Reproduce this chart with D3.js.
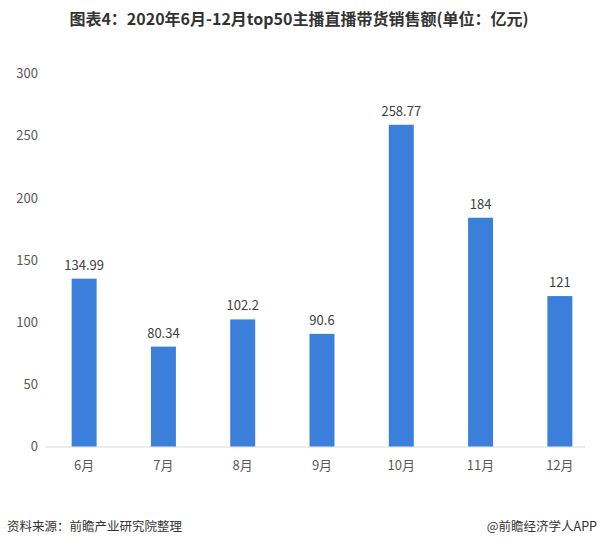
<!DOCTYPE html>
<html><head><meta charset="utf-8">
<script src="https://cdn.jsdelivr.net/npm/d3@7"></script>
<style>body{margin:0;background:#fff;} svg{display:block;}</style>
</head><body>
<svg id="c" width="600" height="548"></svg>
<script>
const categories = ["6月","7月","8月","9月","10月","11月","12月"];
const values = [134.99, 80.34, 102.2, 90.6, 258.77, 184, 121];
const valueLabels = ["134.99","80.34","102.2","90.6","258.77","184","121"];
const yTicks = [0,50,100,150,200,250,300];
const title = "图表4：2020年6月-12月top50主播直播带货销售额(单位：亿元)";
const source = "资料来源：前瞻产业研究院整理";
const credit = "@前瞻经济学人APP";

const svg = d3.select("#c");
const font = "'Microsoft YaHei','Noto Sans CJK SC',sans-serif";
const x = d3.scaleBand().domain(categories).range([44.5, 599.5]).paddingInner(0.685).paddingOuter(0.3425);
const y = d3.scaleLinear().domain([0,300]).range([446.5, 73.5]);

svg.append("text").attr("x",299).attr("y",25).attr("text-anchor","middle")
  .attr("font-family",font).attr("font-weight","bold").attr("font-size",16).attr("fill","#333").text(title);

const ya = svg.append("g").attr("transform","translate(38,0)")
  .call(d3.axisLeft(y).tickValues(yTicks).tickSize(0).tickPadding(0));
ya.select(".domain").remove();
ya.selectAll("text").attr("font-family",font).attr("font-size",13).attr("fill","#595959");

svg.append("line").attr("x1",45).attr("x2",585).attr("y1",y(0)+0.5).attr("y2",y(0)+0.5)
  .attr("stroke","#d9d9d9").attr("stroke-width",1);

svg.selectAll("rect.bar").data(values).enter().append("rect").attr("class","bar")
  .attr("x",(d,i)=>x(categories[i])).attr("width",x.bandwidth())
  .attr("y",d=>y(d)).attr("height",d=>y(0)-y(d)).attr("fill","#3b7fda");

svg.selectAll("text.vl").data(values).enter().append("text").attr("class","vl")
  .attr("x",(d,i)=>x(categories[i])+x.bandwidth()/2).attr("y",d=>y(d)-9)
  .attr("text-anchor","middle").attr("font-family",font).attr("font-size",13).attr("fill","#404040")
  .text((d,i)=>valueLabels[i]);

const xa = svg.append("g").attr("transform",`translate(0,${y(0)})`)
  .call(d3.axisBottom(x).tickSize(0).tickPadding(14));
xa.select(".domain").remove();
xa.selectAll("text").attr("font-family",font).attr("font-size",13).attr("fill","#595959");

svg.append("text").attr("x",7).attr("y",531).attr("font-family",font).attr("font-size",12.5).attr("fill","#333").text(source);
svg.append("text").attr("x",597).attr("y",531).attr("text-anchor","end").attr("font-family",font).attr("font-size",12.5).attr("fill","#333").text(credit);
</script>
</body></html>
